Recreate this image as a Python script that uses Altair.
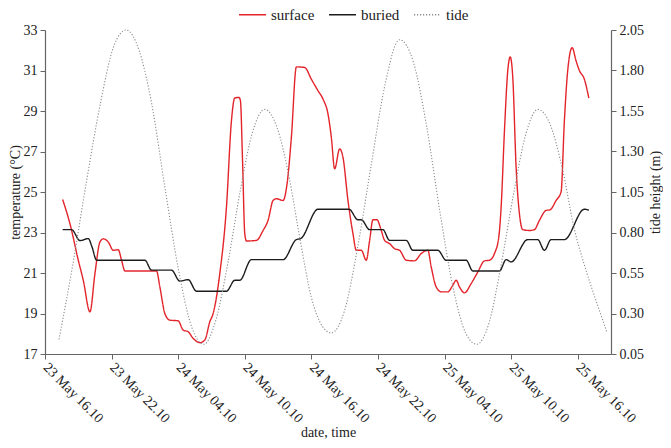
import altair as alt
import pandas as pd

FONT = "Liberation Serif, Times New Roman, Times, serif"

# hours after 23 May 16.10
surface_h = [1.59, 2.25, 3.0, 3.45, 4.05, 4.5, 4.95, 5.25, 5.7, 6.15, 6.6, 6.9, 7.2, 8.5, 10.05,
             10.35, 10.8, 11.25, 12.0, 12.45, 12.9, 13.35, 13.95, 14.4, 14.85, 15.15, 15.75, 16.35,
             16.8, 17.1, 17.49, 17.61, 17.8, 18.0, 18.15, 19.05, 19.65, 20.1, 20.55, 20.85, 21.45,
             21.81, 22.2, 22.65, 23.4, 24.0, 24.6, 25.05, 25.5, 25.8, 26.1, 26.55, 26.85, 27.3,
             27.75, 28.05, 28.5, 28.95, 29.25, 29.55, 29.91, 30.3, 30.6, 31.05, 31.5, 31.95, 32.55,
             33.3, 33.9, 34.5, 34.8, 35.25, 35.7, 36.3, 36.75, 37.05, 37.35, 37.8, 38.4, 39.0, 39.6,
             40.05, 40.5, 40.89, 41.1, 41.4, 41.7, 41.92, 42.15, 42.45, 42.75, 43.05, 43.65, 44.1,
             44.55, 45.15, 45.51, 46.05, 46.5, 46.8, 47.1, 47.5, 47.85, 48.15, 48.6, 49.0]
surface_t = [24.63, 23.43, 21.63, 20.64, 19.08, 20.97, 22.53, 22.69, 22.53, 22.12, 22.15, 21.63,
             21.1, 21.1, 21.1, 20.31, 19.0, 18.67, 18.64, 18.18, 18.1, 17.77, 17.56, 17.69, 18.59,
             19.0, 20.97, 24.25, 28.52, 29.64, 29.67, 29.5, 26.55, 22.94, 22.58, 22.61, 23.1, 23.6,
             24.58, 24.67, 24.58, 25.4, 27.7, 31.18, 31.15, 30.57, 30.0, 29.59, 28.85, 27.7, 26.14,
             27.13, 26.71, 24.58, 22.94, 22.12, 22.12, 21.63, 22.6, 23.63, 23.63, 23.1, 22.61,
             22.45, 22.2, 22.12, 21.63, 21.6, 21.96, 22.12, 21.3, 20.31, 20.07, 20.07, 20.4, 20.64,
             20.31, 20.02, 20.48, 21.05, 21.6, 21.63, 21.96, 22.78, 24.25, 28.03, 31.0, 31.67,
             30.65, 26.22, 23.92, 23.14, 23.1, 23.14, 23.6, 24.09, 24.12, 24.58, 25.0, 28.52, 31.0,
             32.13, 31.48, 31.0, 30.57, 29.64]

buried_h = [1.59, 2.4, 3.15, 3.9, 4.23, 4.65, 9.0, 9.6, 11.4, 12.15, 12.9, 13.65, 16.35, 17.1,
            17.55, 18.6, 21.45, 22.65, 23.04, 24.6, 27.39, 28.2, 28.5, 29.25, 30.45, 31.05, 32.55,
            33.15, 35.4, 36.15, 37.95, 38.55, 40.95, 41.55, 42.0, 43.5, 44.4, 45.0, 45.6, 46.8,
            48.6, 49.0]
buried_t = [23.14, 23.14, 22.6, 22.7, 22.3, 21.63, 21.63, 21.14, 21.14, 20.6, 20.67, 20.1, 20.1,
            20.64, 20.64, 21.66, 21.66, 22.65, 22.7, 24.15, 24.15, 23.63, 23.63, 23.14, 23.14,
            22.61, 22.61, 22.12, 22.12, 21.63, 21.63, 21.1, 21.1, 21.66, 21.55, 22.65, 22.65,
            22.12, 22.65, 22.65, 24.15, 24.1]

tide_h = [1.26, 2.5, 3.75, 5.0, 6.2, 7.3, 8.5, 9.6, 10.8, 12.0, 13.2, 14.3, 15.4, 16.5, 17.6,
          18.7, 19.8, 20.9, 22.0, 23.0, 24.0, 25.0, 25.8, 27.0, 28.2, 29.4, 30.6, 31.95, 33.2,
          34.4, 35.6, 36.8, 37.9, 38.9, 40.0, 41.1, 42.2, 43.3, 44.4, 45.5, 46.6, 47.7, 48.6,
          49.3, 50.0, 50.65]
tide_m = [0.14, 0.6, 1.12, 1.6, 1.95, 2.05, 1.92, 1.6, 1.08, 0.58, 0.22, 0.11, 0.26, 0.62, 1.06,
          1.42, 1.56, 1.45, 1.14, 0.75, 0.4, 0.22, 0.18, 0.32, 0.72, 1.22, 1.7, 1.99, 1.85, 1.45,
          0.92, 0.45, 0.18, 0.11, 0.24, 0.6, 1.03, 1.4, 1.56, 1.47, 1.2, 0.82, 0.6, 0.45, 0.31,
          0.18]

tick_hours = [0, 6, 12, 18, 24, 30, 36, 42, 48]
tick_labels = ["23 May 16.10", "23 May 22.10", "24 May 04.10", "24 May 10.10", "24 May 16.10",
               "24 May 22.10", "25 May 04.10", "25 May 10.10", "25 May 16.10"]
temp_ticks = [17, 19, 21, 23, 25, 27, 29, 31, 33]
tide_ticks = [0.05, 0.30, 0.55, 0.80, 1.05, 1.30, 1.55, 1.80, 2.05]

series_names = ["surface", "buried", "tide"]
series_colors = ["#e3242b", "#1c1c1c", "#8c8c8c"]
series_dash = [[1, 0], [1, 0], [1.2, 1.8]]

rows = []
for h, v in zip(surface_h, surface_t):
    rows.append({"series": "surface", "hour": h, "value": v})
for h, v in zip(buried_h, buried_t):
    rows.append({"series": "buried", "hour": h, "value": v})
for h, v in zip(tide_h, tide_m):
    rows.append({"series": "tide", "hour": h, "value": v})
df = pd.DataFrame(rows)

label_js = "[" + ",".join("'" + s + "'" for s in tick_labels) + "][round(datum.value / 6)]"

legend = alt.Legend(title=None, orient="none", direction="horizontal", legendX=193, legendY=-30,
                    symbolType="stroke", symbolSize=729, symbolStrokeWidth=1.4,
                    labelFont=FONT, labelFontSize=15, labelColor="#222", labelOffset=4,
                    columnPadding=11)

color = alt.Color("series:N", scale=alt.Scale(domain=series_names, range=series_colors), legend=legend)
dash = alt.StrokeDash("series:N", scale=alt.Scale(domain=series_names, range=series_dash), legend=legend)

x = alt.X("hour:Q", scale=alt.Scale(domain=[0, 51], nice=False, zero=False),
          axis=alt.Axis(values=tick_hours, labelExpr=label_js, labelAngle=45, labelAlign="left",
                        labelBaseline="middle", labelPadding=6, labelFontSize=14,
                        labelOverlap=False, labelBound=False,
                        title="date, time", titleY=71, titleBaseline="top"))

temp = alt.Chart(df).transform_filter(
    alt.FieldOneOfPredicate(field="series", oneOf=["surface", "buried"])
).mark_line(interpolate="monotone", strokeWidth=1.4).encode(
    x=x,
    y=alt.Y("value:Q", scale=alt.Scale(domain=[17, 33], nice=False, zero=False),
            axis=alt.Axis(orient="left", values=temp_ticks, title="temperature (°C)",
                          labelPadding=3, titleX=-23, titleBaseline="bottom")),
    color=color,
    strokeDash=dash,
)

tide = alt.Chart(df).transform_filter(
    alt.FieldEqualPredicate(field="series", equal="tide")
).mark_line(interpolate="monotone", strokeWidth=1.1).encode(
    x=x,
    y=alt.Y("value:Q", scale=alt.Scale(domain=[0.05, 2.05], nice=False, zero=False),
            axis=alt.Axis(orient="right", values=tide_ticks, format=".2f", title="tide height (m)",
                          labelPadding=3, titleAngle=270, titleX=37, titleBaseline="top")),
    color=color,
    strokeDash=dash,
)

chart = alt.layer(temp, tide).resolve_scale(y="independent").properties(
    width=566, height=324,
    autosize=alt.AutoSizeParams(type="none"),
    padding={"left": 37, "top": 22, "right": 52, "bottom": 86},
).configure_view(stroke=None).configure_axis(
    grid=False, domainColor="#666", tickColor="#666", tickSize=5, domainWidth=1.2,
    labelFont=FONT, labelFontSize=14, labelColor="#222",
    titleFont=FONT, titleFontSize=14, titleFontWeight="normal", titleColor="#222",
)

chart.save("out.html", embed_options={"renderer": "svg", "actions": False})
